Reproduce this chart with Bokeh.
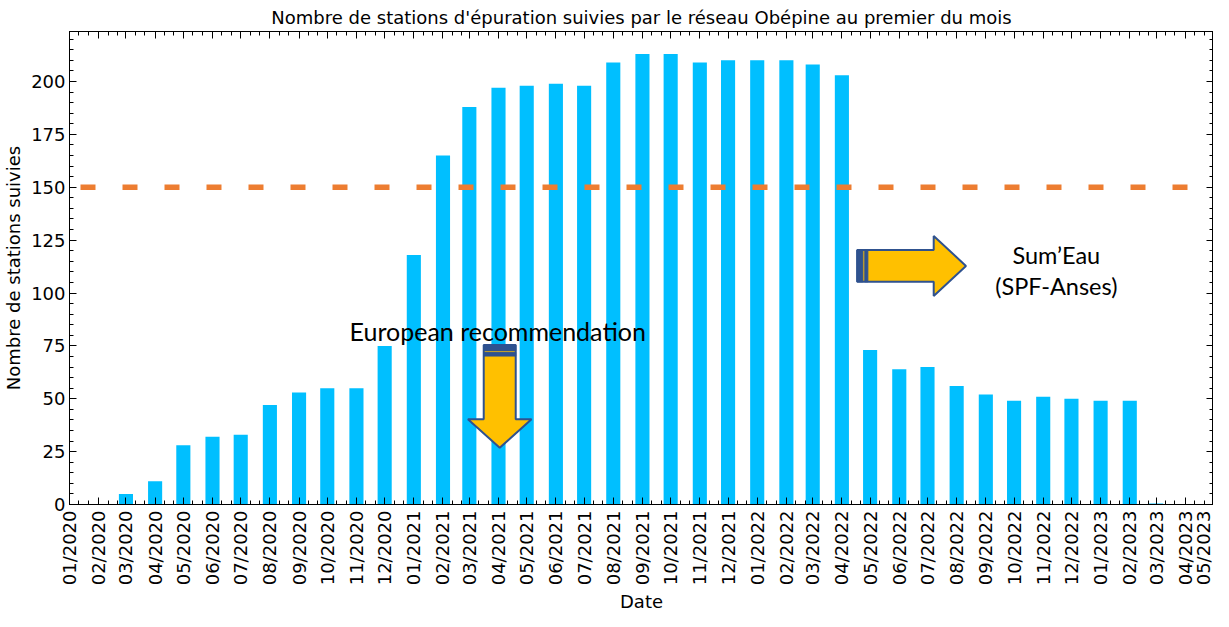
import math
from datetime import datetime, timedelta
from bokeh.plotting import figure
from bokeh.models import (Range1d, FixedTicker, DatetimeTickFormatter, LinearAxis, Title,
                          Span, Label, PolyAnnotation, CustomJSTickFormatter, ColumnDataSource)
from bokeh.embed import file_html
from bokeh.resources import INLINE

# ---------------- data ----------------
month_labels = ["01/2020", "02/2020", "03/2020", "04/2020", "05/2020", "06/2020", "07/2020",
                "08/2020", "09/2020", "10/2020", "11/2020", "12/2020", "01/2021", "02/2021",
                "03/2021", "04/2021", "05/2021", "06/2021", "07/2021", "08/2021", "09/2021",
                "10/2021", "11/2021", "12/2021", "01/2022", "02/2022", "03/2022", "04/2022",
                "05/2022", "06/2022", "07/2022", "08/2022", "09/2022", "10/2022", "11/2022",
                "12/2022", "01/2023", "02/2023", "03/2023", "04/2023", "05/2023"]
station_counts = [0, 0, 5, 11, 28, 32, 33, 47, 53, 55, 55, 75,
                  118, 165, 188, 197, 198, 199, 198, 209, 213, 213, 209, 210,
                  210, 210, 208, 203, 73, 64, 65, 56, 52, 49, 51, 50,
                  49, 49, 0.5, 0]
threshold = 150
title_text = "Nombre de stations d'épuration suivies par le réseau Obépine au premier du mois"
x_title = "Date"
y_title = "Nombre de stations suivies"

# ---------------- helpers ----------------
EPOCH = datetime(1970, 1, 1)
def ms(d):
    return (d - EPOCH).total_seconds() * 1000.0

month_dates = [datetime.strptime(m, "%m/%Y") for m in month_labels]
start, end = month_dates[0], month_dates[-1]
def day_x(days):
    return ms(start + timedelta(days=days))

bar_x = [ms(d) for d in month_dates[:len(station_counts)]]
src = ColumnDataSource(dict(x=bar_x, top=station_counts))

major_ticks = [ms(d) for d in month_dates]
minor_ticks = []
for d in month_dates:
    for day in (1, 11, 21):
        t = d.replace(day=day)
        if t <= end:
            minor_ticks.append(ms(t))
x_ticker = FixedTicker(ticks=major_ticks, minor_ticks=minor_ticks)
y_ticker = FixedTicker(ticks=list(range(0, 201, 25)), minor_ticks=list(range(0, 225, 5)))

FONT = "DejaVu Sans"
Y_MAX = 223.65

p = figure(width=1213, height=611, output_backend="svg", toolbar_location=None,
           x_range=Range1d(ms(start), ms(end)), y_range=Range1d(0, Y_MAX),
           x_axis_type="datetime", title=title_text,
           min_border_left=68, min_border_right=0, min_border_top=0, min_border_bottom=0)

p.title.text_font = FONT
p.title.text_font_size = "18px"
p.title.text_font_style = "normal"
p.title.align = "center"
p.title.text_color = "black"
p.title.standoff = 8

p.xgrid.visible = False
p.ygrid.visible = False
p.outline_line_color = "black"
p.outline_line_width = 1
p.background_fill_color = "white"
p.border_fill_color = "white"

def style(ax):
    ax.axis_line_color = "black"
    ax.axis_line_width = 1
    ax.major_tick_in = 7
    ax.major_tick_out = 0
    ax.minor_tick_in = 4
    ax.minor_tick_out = 0
    ax.major_tick_line_color = "black"
    ax.minor_tick_line_color = "black"
    ax.major_label_text_font = FONT
    ax.major_label_text_font_size = "18px"
    ax.major_label_text_color = "black"
    ax.axis_label_text_font = FONT
    ax.axis_label_text_font_size = "18px"
    ax.axis_label_text_font_style = "normal"
    ax.axis_label_text_color = "black"

xa = p.xaxis[0]
xa.ticker = x_ticker
fmt = "%m/%Y"
xa.formatter = DatetimeTickFormatter(microseconds=fmt, milliseconds=fmt, seconds=fmt,
                                     minsec=fmt, minutes=fmt, hourmin=fmt, hours=fmt,
                                     days=fmt, months=fmt, years=fmt)
xa.major_label_orientation = math.pi / 2
xa.major_label_standoff = 6
style(xa)

# x-axis title as a bottom title panel
p.add_layout(Title(text=x_title, align="center", text_font=FONT, text_font_size="18px",
                   text_font_style="normal", text_color="black", standoff=0, offset=0),
             "below")

ya = p.yaxis[0]
ya.ticker = y_ticker
ya.major_label_standoff = 4
ya.axis_label = y_title
ya.axis_label_standoff = 4
style(ya)

empty = CustomJSTickFormatter(code="return ''")
top_ax = LinearAxis(ticker=x_ticker, formatter=empty, major_label_standoff=0)
style(top_ax)
p.add_layout(top_ax, "above")
right_ax = LinearAxis(ticker=y_ticker, formatter=empty, major_label_standoff=0)
style(right_ax)
p.add_layout(right_ax, "right")

# bars
p.vbar(x="x", top="top", width=15 * 24 * 3600 * 1000, source=src,
       fill_color="#00BFFF", line_color=None)

# threshold line
p.add_layout(Span(location=threshold, dimension="width", line_color="#ED7D31",
                  line_width=5.5, line_dash="15 27", line_dash_offset=31))

# ---------------- annotations ----------------
ARROW_FILL = "#FFC000"
ARROW_LINE = "#2F528F"

def poly(xs_days, ys, fill, lw):
    p.add_layout(PolyAnnotation(xs=[day_x(v) for v in xs_days], ys=ys,
                                fill_color=fill, fill_alpha=1.0,
                                line_color=ARROW_LINE, line_alpha=1.0, line_width=lw))

# down arrow (European recommendation)
dc, shaft_h, head_h = 457.3, 17.0, 33.8
poly([dc - shaft_h, dc + shaft_h, dc + shaft_h, dc + head_h, dc, dc - head_h, dc - shaft_h],
     [75.4, 75.4, 40.3, 40.3, 26.8, 40.3, 40.3], ARROW_FILL, 2)
for (y0, y1) in [(72.8, 75.4), (70.2, 72.0)]:
    poly([dc - shaft_h, dc + shaft_h, dc + shaft_h, dc - shaft_h], [y0, y0, y1, y1],
         ARROW_LINE, 1)

# right arrow (Sum'Eau)
rc, r_shaft, r_head = 112.8, 7.5, 14.2
poly([837.2, 918.6, 918.6, 952.9, 918.6, 918.6, 837.2],
     [rc + r_shaft, rc + r_shaft, rc + r_head, rc, rc - r_head, rc - r_shaft, rc - r_shaft],
     ARROW_FILL, 2)
for (x0, x1) in [(837.2, 843.3), (845.4, 848.6)]:
    poly([x0, x1, x1, x0], [rc - r_shaft, rc - r_shaft, rc + r_shaft, rc + r_shaft],
         ARROW_LINE, 1)

ANN_FONT = "Lato"
p.add_layout(Label(x=day_x(455.2), y=82.2, text="European recommendation",
                   text_align="center", text_baseline="alphabetic",
                   text_font=ANN_FONT, text_font_size="25px", text_color="black"))
p.add_layout(Label(x=day_x(1048.9), y=117.9, text="Sum\u2019Eau",
                   text_align="center", text_baseline="alphabetic",
                   text_font=ANN_FONT, text_font_size="23.5px", text_color="black"))
p.add_layout(Label(x=day_x(1048.9), y=103.5, text="(SPF-Anses)",
                   text_align="center", text_baseline="alphabetic",
                   text_font=ANN_FONT, text_font_size="23.5px", text_color="black"))

open("out.html", "w").write(file_html(p, INLINE))
